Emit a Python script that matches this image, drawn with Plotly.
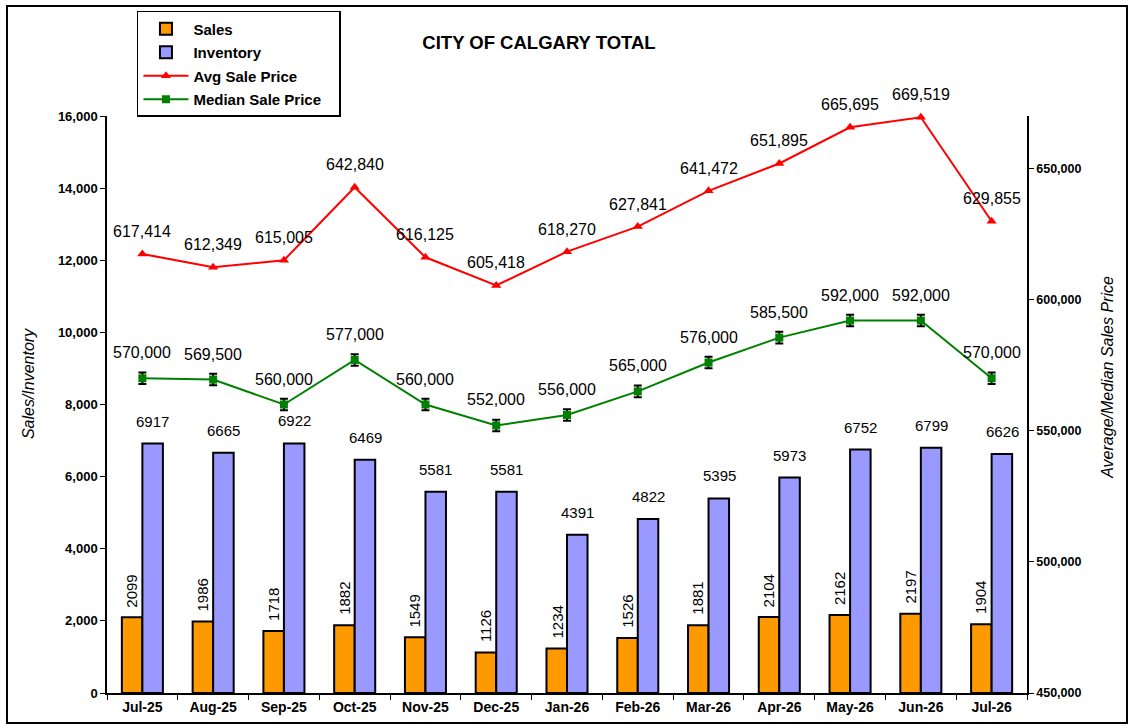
import plotly.graph_objects as go

months = ["Jul-25", "Aug-25", "Sep-25", "Oct-25", "Nov-25", "Dec-25", "Jan-26",
          "Feb-26", "Mar-26", "Apr-26", "May-26", "Jun-26", "Jul-26"]
sales = [2099, 1986, 1718, 1882, 1549, 1126, 1234, 1526, 1881, 2104, 2162, 2197, 1904]
inventory = [6917, 6665, 6922, 6469, 5581, 5581, 4391, 4822, 5395, 5973, 6752, 6799, 6626]
avg_price = [617414, 612349, 615005, 642840, 616125, 605418, 618270, 627841,
             641472, 651895, 665695, 669519, 629855]
median_price = [570000, 569500, 560000, 577000, 560000, 552000, 556000, 565000,
                576000, 585500, 592000, 592000, 570000]

FONT = "Liberation Sans, Arial, sans-serif"

fig = go.Figure()

fig.add_trace(go.Bar(
    x=months, y=sales, name="<b>Sales</b>", legendgroup="a",
    marker=dict(color="#ff9900", line=dict(color="black", width=2)),
))
fig.add_trace(go.Bar(
    x=months, y=inventory, name="<b>Inventory</b>", legendgroup="b",
    marker=dict(color="#9999ff", line=dict(color="black", width=2)),
))
fig.add_trace(go.Scatter(
    x=months, y=avg_price, name="<b>Avg Sale Price</b>", yaxis="y2", legendgroup="c",
    mode="lines+markers",
    line=dict(color="#ff0000", width=2),
    marker=dict(symbol="triangle-up", size=9, color="#ff0000"),
    cliponaxis=False,
))
fig.add_trace(go.Scatter(
    x=months, y=median_price, name="<b>Median Sale Price</b>&nbsp;&nbsp;&nbsp;", yaxis="y2",
    legendgroup="d",
    mode="lines+markers",
    line=dict(color="#008000", width=2),
    marker=dict(symbol="square", size=8, color="#008000"),
    error_y=dict(type="constant", value=2200, color="black", thickness=2, width=4),
    cliponaxis=False,
))

# data labels
lab_font = dict(size=15, color="black", family=FONT)
price_font = dict(size=16, color="black", family=FONT)
for m, s, inv, a, md in zip(months, sales, inventory, avg_price, median_price):
    fig.add_annotation(x=m, y=s, text=str(s), showarrow=False, textangle=-90,
                       xshift=-10.5, yshift=8, yanchor="bottom", font=lab_font)
    fig.add_annotation(x=m, y=inv, text=str(inv), showarrow=False,
                       xshift=10.5, yshift=12, yanchor="bottom", font=lab_font)
    fig.add_annotation(x=m, y=a, yref="y2", text=f"{a:,}", showarrow=False,
                       yshift=12, yanchor="bottom", font=price_font)
    fig.add_annotation(x=m, y=md, yref="y2", text=f"{md:,}", showarrow=False,
                       yshift=15, yanchor="bottom", font=price_font)

# axis titles
fig.add_annotation(xref="paper", yref="paper", x=-0.0859, y=0.537, text="<i>Sales/Inventory</i>",
                   textangle=-90, showarrow=False, xanchor="center", yanchor="middle",
                   font=dict(size=16, family=FONT))
fig.add_annotation(xref="paper", yref="paper", x=1.088, y=0.548,
                   text="<i>Average/Median Sales Price</i>",
                   textangle=-90, showarrow=False, xanchor="center", yanchor="middle",
                   font=dict(size=16, family=FONT))

fig.update_layout(
    width=1130, height=728,
    margin=dict(l=107, r=103, t=116, b=35, autoexpand=False),
    paper_bgcolor="white", plot_bgcolor="white",
    font=dict(family=FONT, color="black"),
    barmode="group", bargap=0.42, bargroupgap=0,
    showlegend=True,
    legend=dict(
        xref="container", yref="container",
        x=0.1212, y=0.985, xanchor="left", yanchor="top",
        bgcolor="white", bordercolor="black", borderwidth=1.5,
        font=dict(size=15, family=FONT),
        itemwidth=45, tracegroupgap=1,
    ),
    title=dict(text="<b>CITY OF CALGARY TOTAL</b>", x=0.477, xanchor="center",
               y=0.942, yanchor="middle", font=dict(size=18.5, family=FONT)),
    xaxis=dict(
        range=[-0.5, 12.5],
        showline=True, linecolor="black", linewidth=1.5,
        ticks="outside", tickson="boundaries", ticklen=5, tickcolor="black",
        tickfont=dict(size=14, family=FONT),
        tickprefix="<b>", ticksuffix="</b>",
    ),
    yaxis=dict(
        range=[0, 16000], dtick=2000, tickformat=",",
        showline=True, linecolor="black", linewidth=1.5,
        ticks="outside", ticklen=5, tickcolor="black",
        showgrid=False, zeroline=False,
        tickfont=dict(size=13, family=FONT),
        tickprefix="<b>", ticksuffix="</b>",
    ),
    yaxis2=dict(
        overlaying="y", side="right",
        range=[450000, 670000], dtick=50000, tickformat=",",
        showline=True, linecolor="black", linewidth=1.5,
        ticks="outside", ticklen=5, tickcolor="black",
        showgrid=False, zeroline=False,
        tickfont=dict(size=12.5, family=FONT),
        tickprefix="<b>", ticksuffix="</b>",
    ),
)

# outer frame around the whole chart
fig.add_shape(type="rect", xref="paper", yref="paper",
              x0=-0.1087, x1=1.1087, y0=-0.052, y1=1.1906,
              line=dict(color="black", width=2), fillcolor="rgba(0,0,0,0)", layer="below")

fig.write_html("out.html", config={"displayModeBar": False},
               post_script="document.body.style.margin='0';")
